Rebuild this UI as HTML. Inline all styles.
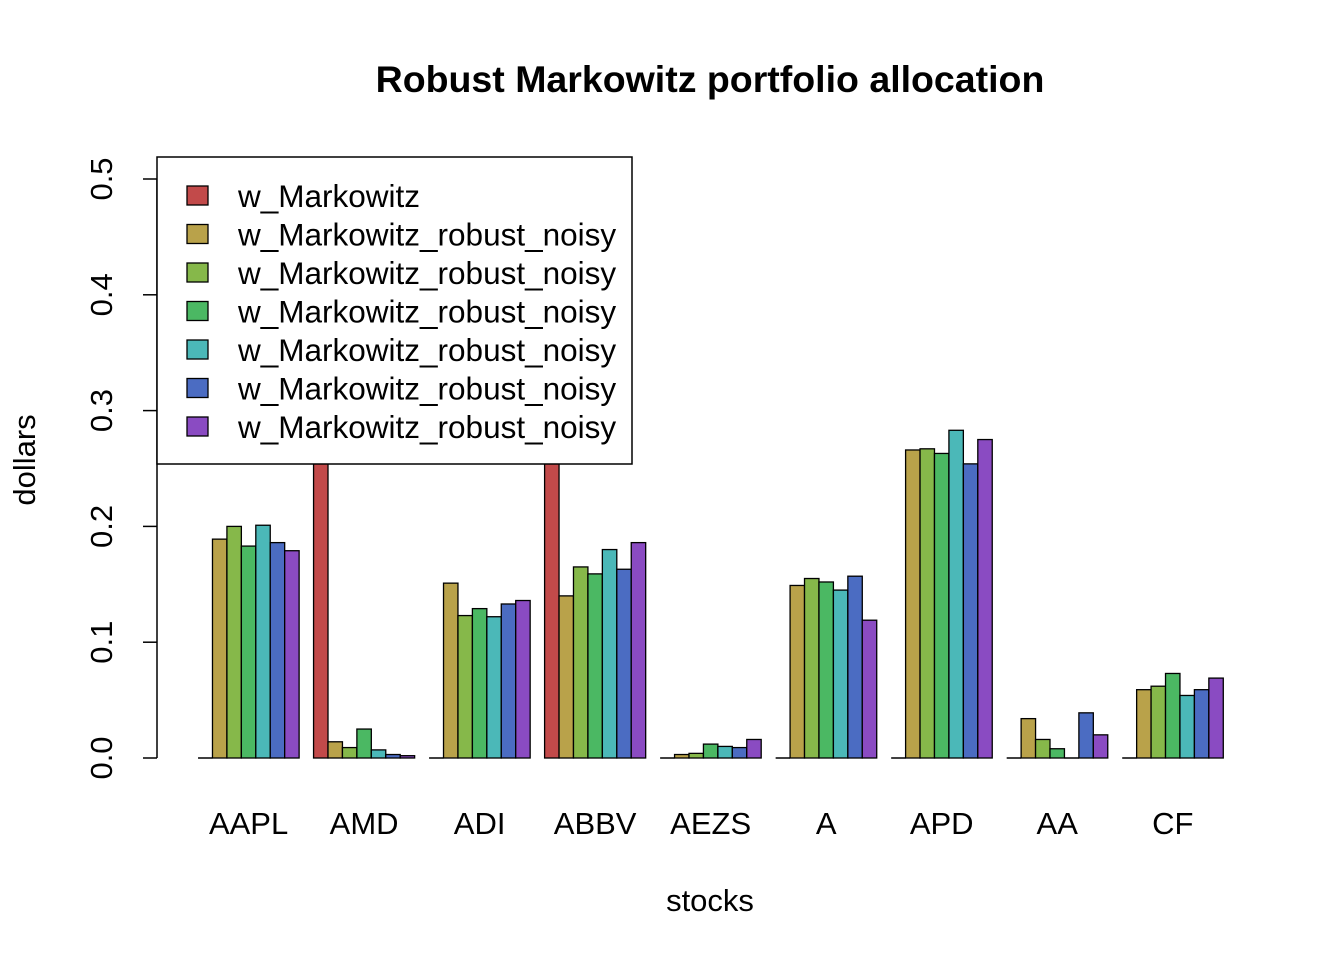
<!DOCTYPE html>
<html><head><meta charset="utf-8"><style>
body{margin:0;background:#fff}
svg{display:block;font-family:"Liberation Sans",Arial,sans-serif}
</style></head><body>
<svg id="chart" width="1344" height="960">
<text x="710" y="92" text-anchor="middle" font-size="37.5" font-weight="bold">Robust Markowitz portfolio allocation</text>
<text x="710" y="911" text-anchor="middle" font-size="31">stocks</text>
<text transform="translate(35,460) rotate(-90)" text-anchor="middle" font-size="31">dollars</text>
<g id="yaxis"></g>
<g id="bars"></g>
<g id="xlabels"></g>
<g id="legend"></g>
</svg>
<script>
const categories=["AAPL","AMD","ADI","ABBV","AEZS","A","APD","AA","CF"];
const seriesNames=["w_Markowitz","w_Markowitz_robust_noisy","w_Markowitz_robust_noisy","w_Markowitz_robust_noisy","w_Markowitz_robust_noisy","w_Markowitz_robust_noisy","w_Markowitz_robust_noisy"];
const s0=[0,0.42,0,0.33,0,0,0,0,0];
const s1=[0.189,0.014,0.151,0.140,0.003,0.149,0.266,0.034,0.059];
const s2=[0.200,0.009,0.123,0.165,0.004,0.155,0.267,0.016,0.062];
const s3=[0.183,0.025,0.129,0.159,0.012,0.152,0.263,0.008,0.073];
const s4=[0.201,0.007,0.122,0.180,0.010,0.145,0.283,0,0.054];
const s5=[0.186,0.003,0.133,0.163,0.009,0.157,0.254,0.039,0.059];
const s6=[0.179,0.002,0.136,0.186,0.016,0.119,0.275,0.020,0.069];
const yTicks=[0,0.1,0.2,0.3,0.4,0.5];
const yTickLabels=["0.0","0.1","0.2","0.3","0.4","0.5"];
const series=[s0,s1,s2,s3,s4,s5,s6];
const colors=["#C24A4A","#B9A24A","#86B84A","#4BB863","#4BB8B8","#4B6CC2","#8A4BC2"];
const NS="http://www.w3.org/2000/svg";
const y=v=>758-v*1158;
const unit=14.44, x0=183.6;
const xu=u=>x0+u*unit;
function mk(tag,attrs,parent){const e=document.createElementNS(NS,tag);for(const k in attrs)e.setAttribute(k,attrs[k]);parent.appendChild(e);return e;}
const ya=document.getElementById('yaxis');
const ax=mk('line',{x1:157,x2:157,y1:y(0),y2:y(0.5),stroke:'#000','stroke-width':1.5},ya);


yTicks.forEach((t,i)=>{
  const l=mk('line',{x1:143,x2:157,y1:y(t),y2:y(t),stroke:'#000','stroke-width':1.5},ya);
  
  
  const tx=mk('text',{transform:`translate(112,${y(t)}) rotate(-90)`,'text-anchor':'middle','font-size':31},ya);
  tx.textContent=yTickLabels[i];
  
  
});
const bg=document.getElementById('bars');
categories.forEach((c,g)=>{
  series.forEach((s,i)=>{
    const v=s[g];const u=g*8+1+i;
    if(v>0){
      const r=mk('rect',{x:xu(u),y:y(v),width:unit,height:y(0)-y(v),fill:colors[i],stroke:'#000','stroke-width':1.3},bg);
      
      
    } else {
      const r=mk('line',{x1:xu(u),x2:xu(u+1),y1:y(0),y2:y(0),stroke:'#000','stroke-width':1.5},bg);
      
      
    }
  });
  const t=mk('text',{x:xu(g*8+4.5),y:834,'text-anchor':'middle','font-size':31},document.getElementById('xlabels'));
  t.textContent=c;
  
  
});
const lg=document.getElementById('legend');
const box=mk('rect',{x:157,y:157,width:475,height:307,fill:'#fff',stroke:'#000','stroke-width':1.5},lg);


seriesNames.forEach((n,i)=>{
  const yy=195+i*38.5;
  const sw=mk('rect',{x:187,y:yy-9,width:21,height:19,fill:colors[i],stroke:'#000','stroke-width':1.3},lg);
  
  
  const t=mk('text',{x:238,y:yy+12,'font-size':31.5},lg);
  t.textContent=n;
  
  
});
</script>
</body></html>
